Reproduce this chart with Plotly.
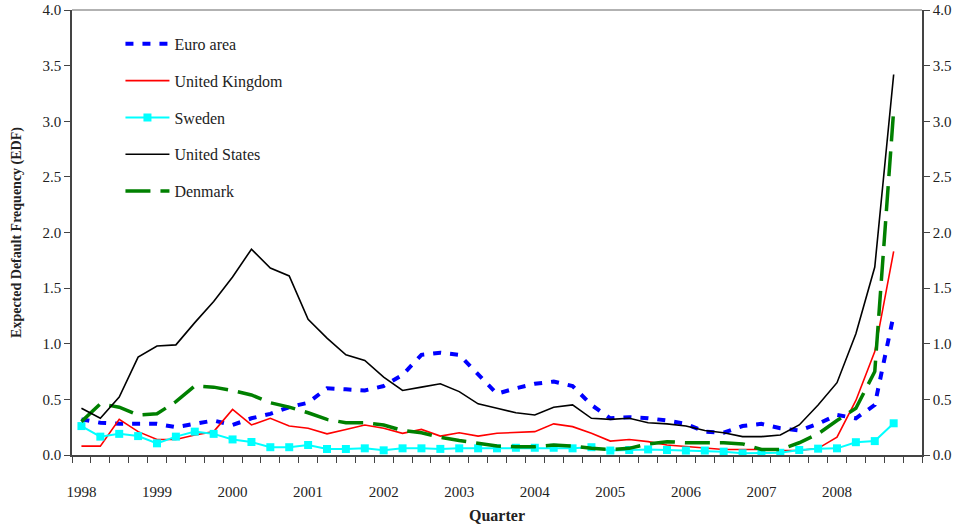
import plotly.graph_objects as go

years = ["1998", "1999", "2000", "2001", "2002", "2003", "2004", "2005", "2006", "2007", "2008"]
quarters = list(range(44))  # 1998Q1 .. 2008Q4

euro = [0.32, 0.29, 0.28, 0.28, 0.28, 0.25, 0.28, 0.31, 0.27, 0.33, 0.37, 0.43,
        0.47, 0.60, 0.59, 0.58, 0.62, 0.72, 0.90, 0.92, 0.90, 0.72, 0.55, 0.60,
        0.64, 0.66, 0.62, 0.45, 0.33, 0.34, 0.33, 0.31, 0.28, 0.21, 0.20, 0.26,
        0.28, 0.24, 0.22, 0.28, 0.36, 0.33, 0.45, 1.26]
uk = [0.08, 0.08, 0.32, 0.21, 0.14, 0.14, 0.18, 0.21, 0.41, 0.27, 0.33, 0.26,
      0.24, 0.19, 0.23, 0.27, 0.24, 0.195, 0.23, 0.17, 0.20, 0.17, 0.195, 0.20,
      0.21, 0.28, 0.255, 0.195, 0.125, 0.14, 0.12, 0.09, 0.075, 0.06, 0.05, 0.05,
      0.05, 0.04, 0.04, 0.06, 0.16, 0.49, 0.93, 1.83]
sweden = [0.26, 0.165, 0.19, 0.17, 0.105, 0.165, 0.21, 0.19, 0.14, 0.117, 0.07, 0.07,
          0.09, 0.054, 0.054, 0.06, 0.042, 0.06, 0.06, 0.055, 0.06, 0.06, 0.06, 0.065,
          0.065, 0.065, 0.06, 0.07, 0.04, 0.045, 0.05, 0.045, 0.04, 0.04, 0.03, 0.015,
          0.015, 0.02, 0.045, 0.057, 0.06, 0.115, 0.125, 0.285]
us = [0.42, 0.33, 0.52, 0.88, 0.98, 0.99, 1.19, 1.38, 1.60, 1.85, 1.68, 1.61,
      1.22, 1.05, 0.90, 0.85, 0.70, 0.58, 0.61, 0.64, 0.57, 0.46, 0.42, 0.38,
      0.36, 0.43, 0.45, 0.33, 0.32, 0.33, 0.29, 0.28, 0.26, 0.22, 0.20, 0.165,
      0.165, 0.18, 0.27, 0.45, 0.65, 1.09, 1.69, 3.42]
denmark = [0.30, 0.46, 0.43, 0.36, 0.37, 0.48, 0.62, 0.61, 0.58, 0.54, 0.47, 0.43,
           0.38, 0.32, 0.29, 0.29, 0.27, 0.22, 0.20, 0.16, 0.13, 0.105, 0.08, 0.075,
           0.075, 0.09, 0.08, 0.06, 0.05, 0.06, 0.10, 0.12, 0.11, 0.11, 0.11, 0.10,
           0.05, 0.05, 0.11, 0.19, 0.31, 0.42, 0.75, 3.10]

yticks = [0, 0.5, 1.0, 1.5, 2.0, 2.5, 3.0, 3.5, 4.0]
ytick_text = [f"{v:.1f}" for v in yticks]

FONT = "Liberation Serif"
AX = "#444"

fig = go.Figure()
fig.add_trace(go.Scatter(x=quarters, y=euro, name="Euro area", mode="lines",
                         line=dict(color="#0000FF", width=4, dash="8px,9px"),
                         legendgroup="a"))
fig.add_trace(go.Scatter(x=quarters, y=uk, name="United Kingdom", mode="lines",
                         line=dict(color="#FF0000", width=1.6), legendgroup="b"))
fig.add_trace(go.Scatter(x=quarters, y=sweden, name="Sweden", mode="lines+markers",
                         line=dict(color="#00FFFF", width=2),
                         marker=dict(symbol="square", size=8, color="#00FFFF"),
                         legendgroup="c"))
fig.add_trace(go.Scatter(x=quarters, y=us, name="United States", mode="lines",
                         line=dict(color="#000000", width=1.6), legendgroup="d",
                         yaxis="y2"))
fig.add_trace(go.Scatter(x=quarters, y=denmark, name="Denmark", mode="lines",
                         line=dict(color="#008000", width=3.5, dash="25px,10px"),
                         legendgroup="e"))

fig.update_layout(
    width=968, height=531,
    margin=dict(l=72, r=46, t=10, b=76, autoexpand=False),
    paper_bgcolor="white", plot_bgcolor="white",
    font=dict(family=FONT, color="#222", size=15),
    showlegend=True,
    legend=dict(x=0.057, y=0.962, xanchor="left", yanchor="top",
                bgcolor="rgba(0,0,0,0)", font=dict(family=FONT, size=16, color="#222"),
                traceorder="grouped", tracegroupgap=13, itemwidth=44),
    xaxis=dict(
        range=[-0.5, 44.5], automargin=False,
        tickmode="array",
        tickvals=[4 * i for i in range(len(years))],
        ticktext=years,
        ticks="", ticklabelstandoff=22,
        showgrid=False, zeroline=False,
        showline=True, linecolor=AX, linewidth=1.5,
        minor=dict(tickvals=[q - 0.5 for q in quarters] + [43.5, 44.5],
                   ticks="outside", ticklen=6, tickcolor=AX, showgrid=False),
        tickfont=dict(family=FONT, size=15, color="#222"),
        ticklabeloverflow="allow",
        title=dict(text="<b>Quarter</b>", font=dict(family=FONT, size=16, color="#222"),
                   standoff=11),
    ),
    yaxis=dict(
        range=[0, 4.0], automargin=False,
        tickmode="array", tickvals=yticks, ticktext=ytick_text,
        ticks="outside", ticklen=6, tickcolor=AX,
        showgrid=False, zeroline=False,
        showline=True, linecolor=AX, linewidth=1.5,
        tickfont=dict(family=FONT, size=15, color="#222"),
        ticklabeloverflow="allow",
        title=dict(text="<b>Expected Default Frequency (EDF)</b>",
                   font=dict(family=FONT, size=14, color="#222"), standoff=18),
    ),
    yaxis2=dict(
        range=[0, 4.0], overlaying="y", side="right", automargin=False,
        tickmode="array", tickvals=yticks, ticktext=ytick_text,
        ticks="outside", ticklen=6, tickcolor=AX,
        showgrid=False, zeroline=False,
        showline=True, linecolor=AX, linewidth=1.5,
        tickfont=dict(family=FONT, size=15, color="#222"),
        ticklabeloverflow="allow",
    ),
    shapes=[dict(type="line", xref="paper", yref="paper", x0=0, x1=1, y0=1, y1=1,
                 line=dict(color="#999", width=1.5))],
)

fig.write_html("out.html", config={"displayModeBar": False},
               post_script="document.body.style.margin='0';")
